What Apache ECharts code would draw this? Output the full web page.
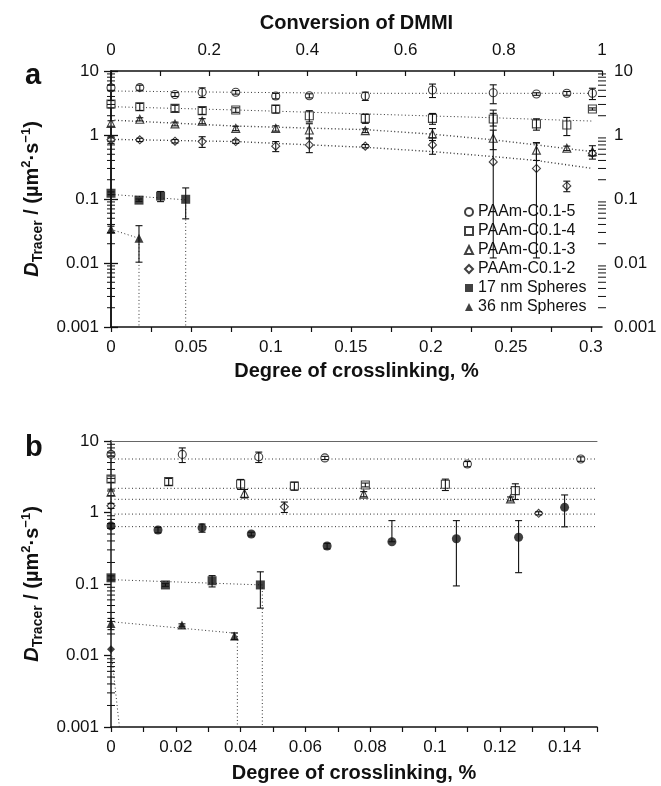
<!DOCTYPE html>
<html>
<head>
<meta charset="utf-8">
<script src="https://cdn.jsdelivr.net/npm/echarts@6/dist/echarts.min.js"></script>
<style>
html, body { margin: 0; background: #fff; }
#chart { width: 661px; height: 786px; }
</style>
</head>
<body>
<div id="chart"></div>
<script>
// ---- panel a: PAAm gels, x = degree of crosslinking (%)
var xA = [0, 0.018, 0.040, 0.057, 0.078, 0.103, 0.124, 0.159, 0.201, 0.239, 0.266, 0.285, 0.301];
var c5A = [5.48, 5.5, 4.3, 4.65, 4.65, 4.07, 4.1, 4.07, 5.05, 4.58, 4.37, 4.48, 4.48];
var c5AErr = [0.6, 0.5, 0.3, 0.8, 0.3, 0.4, 0.3, 0.6, 1.2, 1.5, 0.2, 0.3, 0.9];
var c4A = [3.05, 2.77, 2.61, 2.4, 2.46, 2.55, 2.0, 1.82, 1.82, 1.78, 1.49, 1.43, 2.55];
var c4AErr = [0.4, 0.35, 0.3, 0.3, 0.2, 0.35, 0.4, 0.3, 0.35, 0.4, 0.3, 0.45, 0.1];
var c3A = [1.52, 1.76, 1.49, 1.65, 1.27, 1.27, 1.2, 1.17, 1.04, 0.89, 0.58, 0.62, 0.55];
var c3AErr = [0.15, 0.1, 0.1, 0.15, 0.1, 0.12, 0.3, 0.08, 0.22, 0.3, 0.18, 0.05, 0.13];
var c2A = [0.84, 0.84, 0.80, 0.79, 0.79, 0.67, 0.70, 0.67, 0.70, 0.38, 0.30, 0.16, 0.52];
var c2AErrUp = [0.1, 0.05, 0.05, 0.15, 0.05, 0.12, 0.17, 0.04, 0.2, 2.07, 0.45, 0.03, 0.05];
var c2AErrDown = [0.1, 0.05, 0.05, 0.15, 0.05, 0.12, 0.17, 0.04, 0.2, 0.368, 0.288, 0.03, 0.05];

// fitted curves of panel a
var fitXA = [0, 0.078, 0.16, 0.201, 0.239, 0.266, 0.301];
var fit5A = [4.87, 4.65, 4.48, 4.48, 4.48, 4.48, 4.48];
var fit4A = [2.77, 2.46, 2.13, 1.98, 1.86, 1.76, 1.65];
var fit3A = [1.71, 1.38, 1.21, 1.03, 0.84, 0.70, 0.55];
var fit2A = [0.855, 0.79, 0.64, 0.55, 0.46, 0.40, 0.30];

// spheres, panel a
var s17xA = [0, 0.0175, 0.031, 0.0467];
var s17A = [0.123, 0.096, 0.111, 0.099];
var s17AErr = [0.006, 0.004, 0.02, 0.05];
var s36xA = [0, 0.0175];
var s36A = [0.0336, 0.0243];
var s36AErr = [0.004, 0.014];
var s17LineXA = [0, 0.0467, 0.0467];
var s17LineYA = [0.118, 0.097, 0.001];
var s36LineXA = [0, 0.0175, 0.0175];
var s36LineYA = [0.0336, 0.0243, 0.001];

// ---- panel b
var c5xB = [0, 0.022, 0.0456, 0.066, 0.11, 0.145];
var c5B = [6.5, 6.5, 6.0, 5.8, 4.76, 5.6];
var c5BErr = [0.3, 1.5, 1.0, 0.3, 0.4, 0.4];
var c4xB = [0, 0.0178, 0.040, 0.0566, 0.0785, 0.1032, 0.1248];
var c4B = [2.94, 2.7, 2.5, 2.35, 2.43, 2.48, 2.02];
var c4BErr = [0.3, 0.3, 0.4, 0.3, 0.15, 0.45, 0.5];
var c3xB = [0, 0.0412, 0.078, 0.1233];
var c3B = [1.92, 1.85, 1.81, 1.55];
var c3BErr = [0.2, 0.25, 0.15, 0.1];
var c2xB = [0, 0.0535, 0.132];
var c2B = [1.24, 1.2, 0.975];
var c2BErr = [0.1, 0.2, 0.05];
var fcxB = [0, 0.0145, 0.0281, 0.0433, 0.0667, 0.0867, 0.1066, 0.1258, 0.14];
var fcB = [0.65, 0.57, 0.61, 0.50, 0.34, 0.39, 0.43, 0.45, 1.18];
var fcBErrUp = [0.05, 0.05, 0.08, 0.03, 0.03, 0.38, 0.34, 0.32, 0.58];
var fcBErrDown = [0.05, 0.05, 0.08, 0.03, 0.03, 0, 0.336, 0.306, 0.55];
var levelsB = [5.6, 2.18, 1.53, 0.95, 0.634];

var s17xB = [0, 0.0168, 0.0312, 0.0461];
var s17B = [0.122, 0.097, 0.111, 0.097];
var s17BErr = [0.008, 0.004, 0.02, 0.051];
var s36xB = [0, 0.0219, 0.0381];
var s36B = [0.028, 0.0267, 0.0187];
var s36BErr = [0.005, 0.001, 0.002];
var dxB = [0];
var dB = [0.0122];
var s17LineXB = [0, 0.0467, 0.0467];
var s17LineYB = [0.115, 0.097, 0.001];
var s36LineXB = [0, 0.039, 0.039];
var s36LineYB = [0.0297, 0.0204, 0.001];
var dLineXB = [0, 0.0026];
var dLineYB = [0.0122, 0.001];

// ---- tick labels
var decades = [0.001, 0.01, 0.1, 1, 10];
var ticksXA = [0, 0.025, 0.05, 0.075, 0.1, 0.125, 0.15, 0.175, 0.2, 0.225, 0.25, 0.275, 0.3];
var labelsXA = [0, 0.05, 0.1, 0.15, 0.2, 0.25, 0.3];
var ticksTopA = [0, 0.1, 0.2, 0.3, 0.4, 0.5, 0.6, 0.7, 0.8, 0.9, 1];
var labelsTopA = [0, 0.2, 0.4, 0.6, 0.8, 1];
var ticksXB = [0, 0.01, 0.02, 0.03, 0.04, 0.05, 0.06, 0.07, 0.08, 0.09, 0.1, 0.11, 0.12, 0.13, 0.14, 0.15];
var labelsXB = [0, 0.02, 0.04, 0.06, 0.08, 0.1, 0.12, 0.14];
var minorLog = [];
[0.001, 0.01, 0.1, 1].forEach(function (d) {
    for (var k = 2; k <= 9; k++) minorLog.push(+(k * d).toPrecision(3));
});

var FONT = 'Liberation Sans, Arial, Helvetica, sans-serif';
var INK = '#111';

function pts(xs, ys) {
    return xs.map(function (x, i) { return [x, ys[i]]; });
}
function bars(xs, ys, up, down) {
    down = down || up;
    var out = [];
    xs.forEach(function (x, i) {
        if (up[i] > 0 || down[i] > 0) out.push([x, ys[i] - down[i], ys[i] + up[i]]);
    });
    return out;
}

function scatter(name, xi, yi, xs, ys, symbol, filled, size) {
    return {
        name: name, type: 'scatter', xAxisIndex: xi, yAxisIndex: yi,
        symbol: symbol, symbolSize: size, z: 3,
        itemStyle: filled ? { color: INK } : { color: '#fff', borderColor: INK, borderWidth: 1.1 },
        data: pts(xs, ys)
    };
}
function dotted(xi, yi, xs, ys, width) {
    return {
        type: 'line', xAxisIndex: xi, yAxisIndex: yi, symbol: 'none', silent: true, z: 1,
        lineStyle: { color: '#333', width: width || 1, type: [1, 2.5] },
        data: pts(xs, ys)
    };
}
function errorBars(xi, yi, data) {
    return {
        type: 'custom', xAxisIndex: xi, yAxisIndex: yi, z: 4, silent: true,
        dimensions: ['x', 'lo', 'hi'],
        encode: { x: 0, y: [1, 2] },
        renderItem: function (params, api) {
            var top = api.coord([api.value(0), api.value(2)]);
            var bot = api.coord([api.value(0), api.value(1)]);
            var w = 3.5;
            var st = { stroke: INK, lineWidth: 1.1 };
            return {
                type: 'group', children: [
                    { type: 'line', shape: { x1: top[0], y1: top[1], x2: bot[0], y2: bot[1] }, style: st },
                    { type: 'line', shape: { x1: top[0] - w, y1: top[1], x2: top[0] + w, y2: top[1] }, style: st },
                    { type: 'line', shape: { x1: bot[0] - w, y1: bot[1], x2: bot[0] + w, y2: bot[1] }, style: st }
                ]
            };
        },
        data: data
    };
}
// minor log ticks (2..9 of each decade) crossing the y axis at x = xEdge
function minorTicks(xi, yi, xEdge) {
    return {
        type: 'custom', xAxisIndex: xi, yAxisIndex: yi, z: 5, silent: true, clip: false,
        renderItem: function (params, api) {
            var p = api.coord([api.value(0), api.value(1)]);
            return {
                type: 'line',
                shape: { x1: p[0] - 4, y1: p[1], x2: p[0] + 4, y2: p[1] },
                style: { stroke: INK, lineWidth: 1 }
            };
        },
        data: minorLog.map(function (v) { return [xEdge, v]; })
    };
}

var yName = '{i|D}{sub|Tracer}{n| / (µm}{sup|2}{n|·s}{sup|−1}{n|)}';
var yNameStyle = {
    fontFamily: FONT, color: INK,
    rich: {
        i: { fontFamily: FONT, fontSize: 20, fontWeight: 'bold', fontStyle: 'italic', lineHeight: 26, color: INK },
        n: { fontFamily: FONT, fontSize: 20, fontWeight: 'bold', lineHeight: 26, color: INK },
        sub: { fontFamily: FONT, fontSize: 14, fontWeight: 'bold', lineHeight: 14, verticalAlign: 'bottom', color: INK },
        sup: { fontFamily: FONT, fontSize: 13, fontWeight: 'bold', lineHeight: 14, verticalAlign: 'top', color: INK }
    }
};
var nameStyle = { fontFamily: FONT, fontSize: 20, fontWeight: 'bold', color: INK };
var axisLine = { show: true, lineStyle: { color: INK, width: 1.5 } };

function logAxis(grid, pos, withLabels, name) {
    return {
        type: 'log', logBase: 10, gridIndex: grid, position: pos, min: 0.001, max: 10,
        axisLine: axisLine, splitLine: { show: false },
        axisTick: { show: true, length: 7, lineStyle: { color: INK, width: 1.3 } },
        axisLabel: { show: withLabels, customValues: decades, margin: 12, fontFamily: FONT, fontSize: 17, color: INK },
        name: name || '', nameLocation: 'middle', nameRotate: 90, nameGap: 58, nameTextStyle: yNameStyle
    };
}

var myChart = echarts.init(document.getElementById('chart'));
var option = {
    backgroundColor: '#fff',
    animation: false,
    title: [
        { text: 'a', left: 20, top: 56, textStyle: { fontFamily: FONT, fontSize: 29, fontWeight: 'bold', color: INK } },
        { text: 'b', left: 20, top: 428, textStyle: { fontFamily: FONT, fontSize: 29, fontWeight: 'bold', color: INK } }
    ],
    grid: [
        { left: 111, top: 71, width: 491, height: 256 },
        { left: 111, top: 441, width: 486, height: 286 }
    ],
    legend: {
        data: ['PAAm-C0.1-5', 'PAAm-C0.1-4', 'PAAm-C0.1-3', 'PAAm-C0.1-2', '17 nm Spheres', '36 nm Spheres'],
        orient: 'vertical', left: 459, top: 199, itemWidth: 8, itemHeight: 8, itemGap: 3,
        textStyle: { fontFamily: FONT, fontSize: 16, color: INK },
        selectedMode: false
    },
    xAxis: [
        {
            type: 'value', gridIndex: 0, position: 'bottom', min: 0, max: 0.307,
            axisLine: axisLine, splitLine: { show: false },
            axisTick: { length: 5, customValues: ticksXA, lineStyle: { color: INK, width: 1.2 } },
            axisLabel: { customValues: labelsXA, margin: 12, fontFamily: FONT, fontSize: 17, color: INK },
            name: 'Degree of crosslinking, %', nameLocation: 'middle', nameGap: 34, nameTextStyle: nameStyle
        },
        {
            type: 'value', gridIndex: 0, position: 'top', min: 0, max: 1,
            axisLine: axisLine, splitLine: { show: false },
            axisTick: { inside: true, length: 5, customValues: ticksTopA, lineStyle: { color: INK, width: 1.2 } },
            axisLabel: { customValues: labelsTopA, margin: 12, fontFamily: FONT, fontSize: 17, color: INK },
            name: 'Conversion of DMMI', nameLocation: 'middle', nameGap: 38, nameTextStyle: nameStyle
        },
        {
            type: 'value', gridIndex: 1, position: 'bottom', min: 0, max: 0.15,
            axisLine: axisLine, splitLine: { show: false },
            axisTick: { length: 5, customValues: ticksXB, lineStyle: { color: INK, width: 1.2 } },
            axisLabel: { customValues: labelsXB, margin: 12, fontFamily: FONT, fontSize: 17, color: INK },
            name: 'Degree of crosslinking, %', nameLocation: 'middle', nameGap: 36, nameTextStyle: nameStyle
        },
        {
            type: 'value', gridIndex: 1, position: 'top', min: 0, max: 0.15,
            axisLine: { show: true, lineStyle: { color: '#666', width: 1 } },
            axisTick: { show: false }, axisLabel: { show: false }, splitLine: { show: false }
        }
    ],
    yAxis: [
        logAxis(0, 'left', true, yName),
        logAxis(0, 'right', true),
        logAxis(1, 'left', true, yName),
        {
            type: 'log', logBase: 10, gridIndex: 1, position: 'right', min: 0.001, max: 10,
            axisLine: { show: true, lineStyle: { color: '#555', width: 1.5 } },
            axisTick: { show: false }, axisLabel: { show: false }, splitLine: { show: false }
        }
    ],
    series: [
        // panel a
        minorTicks(0, 0, 0),
        minorTicks(0, 0, 0.307),
        dotted(0, 0, fitXA, fit5A),
        dotted(0, 0, fitXA, fit4A),
        dotted(0, 0, fitXA, fit3A, 1.4),
        dotted(0, 0, fitXA, fit2A, 1.4),
        dotted(0, 0, s17LineXA, s17LineYA),
        dotted(0, 0, s36LineXA, s36LineYA),
        scatter('PAAm-C0.1-5', 0, 0, xA, c5A, 'circle', false, 8),
        scatter('PAAm-C0.1-4', 0, 0, xA, c4A, 'rect', false, 8),
        scatter('PAAm-C0.1-3', 0, 0, xA, c3A, 'triangle', false, 8),
        scatter('PAAm-C0.1-2', 0, 0, xA, c2A, 'diamond', false, 8),
        scatter('17 nm Spheres', 0, 0, s17xA, s17A, 'rect', true, 9),
        scatter('36 nm Spheres', 0, 0, s36xA, s36A, 'triangle', true, 9),
        errorBars(0, 0, [].concat(
            bars(xA, c5A, c5AErr), bars(xA, c4A, c4AErr), bars(xA, c3A, c3AErr),
            bars(xA, c2A, c2AErrUp, c2AErrDown),
            bars(s17xA, s17A, s17AErr), bars(s36xA, s36A, s36AErr)
        )),
        // panel b
        minorTicks(2, 2, 0),
        dotted(2, 2, [0, 0.15], [levelsB[0], levelsB[0]]),
        dotted(2, 2, [0, 0.15], [levelsB[1], levelsB[1]]),
        dotted(2, 2, [0, 0.15], [levelsB[2], levelsB[2]]),
        dotted(2, 2, [0, 0.15], [levelsB[3], levelsB[3]]),
        dotted(2, 2, [0, 0.15], [levelsB[4], levelsB[4]]),
        dotted(2, 2, s17LineXB, s17LineYB),
        dotted(2, 2, s36LineXB, s36LineYB),
        dotted(2, 2, dLineXB, dLineYB),
        scatter('b C0.1-5', 2, 2, c5xB, c5B, 'circle', false, 8),
        scatter('b C0.1-4', 2, 2, c4xB, c4B, 'rect', false, 8),
        scatter('b C0.1-3', 2, 2, c3xB, c3B, 'triangle', false, 8),
        scatter('b C0.1-2', 2, 2, c2xB, c2B, 'diamond', false, 8),
        scatter('b filled circle', 2, 2, fcxB, fcB, 'circle', true, 9),
        scatter('b 17 nm', 2, 2, s17xB, s17B, 'rect', true, 9),
        scatter('b 36 nm', 2, 2, s36xB, s36B, 'triangle', true, 9),
        scatter('b diamond', 2, 2, dxB, dB, 'diamond', true, 8),
        errorBars(2, 2, [].concat(
            bars(c5xB, c5B, c5BErr), bars(c4xB, c4B, c4BErr), bars(c3xB, c3B, c3BErr),
            bars(c2xB, c2B, c2BErr), bars(fcxB, fcB, fcBErrUp, fcBErrDown),
            bars(s17xB, s17B, s17BErr), bars(s36xB, s36B, s36BErr)
        ))
    ]
};
myChart.setOption(option);
</script>
</body>
</html>
